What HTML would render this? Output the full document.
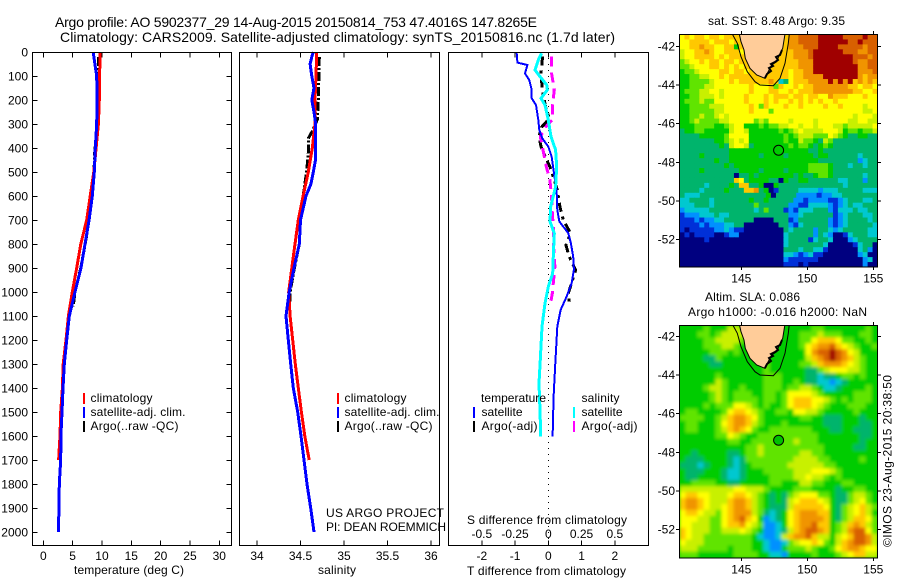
<!DOCTYPE html>
<html lang="en">
<head>
<meta charset="utf-8">
<title>Argo profile 5902377_29</title>
<style>
html,body{margin:0;padding:0;background:#fff;}
svg{display:block;font-family:"Liberation Sans",Arial,sans-serif;font-size:12px;fill:#000;}
.frame{fill:none;stroke:#000;stroke-width:1;shape-rendering:crispEdges;}
.tick{stroke:#000;stroke-width:1;shape-rendering:crispEdges;}
.ttl{font-size:14px;}
</style>
</head>
<body>
<svg id="chart" xmlns="http://www.w3.org/2000/svg" width="900" height="580" viewBox="0 0 900 580">
<rect width="900" height="580" fill="#fff"/>
<text class="ttl" x="55" y="27" textLength="482">Argo profile: AO 5902377_29 14-Aug-2015 20150814_753 47.4016S 147.8265E</text>
<text class="ttl" x="60" y="42" textLength="555">Climatology: CARS2009. Satellite-adjusted climatology: synTS_20150816.nc (1.7d later)</text>

<defs>
<clipPath id="clip-m1"><rect x="679" y="34" width="198.5" height="233"/></clipPath>
<clipPath id="clip-m2"><rect x="679" y="325" width="198.5" height="232.5"/></clipPath>
<filter id="soft" x="-5%" y="-5%" width="110%" height="110%"><feGaussianBlur stdDeviation="1.5"/></filter>
</defs>

<g id="temp-panel"></g>
<g id="sal-panel"></g>
<g id="diff-panel"></g>

<text x="74" y="574" textLength="110">temperature (deg C)</text>
<text x="318" y="574" textLength="38">salinity</text>
<text x="467" y="575" textLength="159">T difference from climatology</text>
<text x="467" y="524" textLength="160">S difference from climatology</text>

<g>
<rect x="83" y="393" width="2" height="11" fill="#f00"/>
<rect x="83" y="407" width="2" height="11" fill="#00f"/>
<rect x="83" y="421" width="2" height="11" fill="#000"/>
<text x="90.5" y="402" textLength="62">climatology</text>
<text x="90.5" y="416" textLength="95">satellite-adj. clim.</text>
<text x="90.5" y="430" textLength="88">Argo(..raw -QC)</text>
</g>
<g>
<rect x="337" y="393" width="2" height="11" fill="#f00"/>
<rect x="337" y="407" width="2" height="11" fill="#00f"/>
<rect x="337" y="421" width="2" height="11" fill="#000"/>
<text x="344.5" y="402" textLength="62">climatology</text>
<text x="344.5" y="416" textLength="95">satellite-adj. clim.</text>
<text x="344.5" y="430" textLength="88">Argo(..raw -QC)</text>
</g>
<text x="326" y="517" textLength="118">US ARGO PROJECT</text>
<text x="326" y="531" textLength="120">PI: DEAN ROEMMICH</text>
<g>
<text x="481" y="402" textLength="65">temperature</text>
<rect x="473" y="407" width="2" height="11" fill="#00f"/>
<rect x="473" y="421" width="2" height="11" fill="#000"/>
<text x="481.5" y="416" textLength="41">satellite</text>
<text x="481.5" y="430" textLength="56">Argo(-adj)</text>
<text x="581.5" y="402" textLength="38">salinity</text>
<rect x="573" y="407" width="2" height="11" fill="#0ff"/>
<rect x="573" y="421" width="2" height="11" fill="#f0f"/>
<text x="581.5" y="416" textLength="41">satellite</text>
<text x="581.5" y="430" textLength="56">Argo(-adj)</text>
</g>

<text x="708" y="25" textLength="137">sat. SST: 8.48 Argo: 9.35</text>
<g id="map-sst" clip-path="url(#clip-m1)"></g>
<g id="map-sst-over"></g>
<text x="705" y="301" textLength="95">Altim. SLA: 0.086</text>
<text x="688" y="316" textLength="179">Argo h1000: -0.016 h2000: NaN</text>
<g id="map-sla" clip-path="url(#clip-m2)"></g>
<g id="map-sla-over"></g>
<text transform="translate(891.5,547) rotate(-90)" textLength="172">©IMOS 23-Aug-2015 20:38:50</text>
</svg>

<script>
/* ---------- profile data ---------- */
const tempClimDepth=[0,200,300,400,500,600,700,800,900,1000,1100,1200,1300,1400,1500,1600,1700];
const tempClim=[9.66,9.55,9.4,9.0,8.6,8.0,7.4,6.4,5.7,4.95,4.27,3.87,3.4,3.25,2.96,2.85,2.6];
const tempSatDepth=[0,50,100,200,300,400,500,600,700,800,900,1000,1100,1200,1300,1400,1500,1600,1700,1800,1900,2000];
const tempSat=[8.5,8.8,9.1,9.15,9.1,8.87,8.7,8.35,7.8,7.1,6.43,5.4,4.43,3.98,3.58,3.36,3.19,3.0,2.96,2.73,2.68,2.56];
const tempArgoDepth=[20,200,300,400,500,600,700,750,900,1000,1060];
const tempArgo=[9.44,9.44,9.35,8.8,8.65,8.25,7.7,7.5,6.4,5.4,5.1];

const salClimDepth=[0,100,200,300,400,500,600,700,800,900,1000,1100,1200,1300,1400,1500,1600,1700];
const salClim=[34.686,34.678,34.667,34.667,34.636,34.59,34.53,34.475,34.437,34.40,34.364,34.38,34.41,34.44,34.475,34.51,34.55,34.6];
const salSatDepth=[0,20,50,100,150,200,250,300,400,450,500,550,600,700,800,900,1000,1100,1200,1300,1400,1500,1600,1700,1800,1900,2000];
const salSat=[34.647,34.63,34.61,34.63,34.655,34.63,34.655,34.675,34.675,34.672,34.647,34.62,34.563,34.5,34.486,34.425,34.37,34.333,34.36,34.387,34.417,34.468,34.506,34.54,34.575,34.617,34.655];
const salArgoDepth=[20,100,200,280,330,360,420,500,600,700,800,900,1000,1040];
const salArgo=[34.716,34.712,34.705,34.695,34.636,34.59,34.59,34.57,34.53,34.5,34.486,34.43,34.38,34.38];

const dTSatDepth=[5,44,54,89,117,158,193,221,283,325,360,394,436,506,575,658,706,755,797,853,908,964,1019,1075,1144,1297,1436,1603];
const dTSat=[-0.95,-0.93,-0.63,-0.70,-0.57,-0.50,-0.50,-0.37,-0.30,-0.27,-0.18,0.0,0.10,0.17,0.25,0.27,0.33,0.60,0.68,0.75,0.77,0.70,0.55,0.37,0.27,0.21,0.16,0.13];
const dSSatDepth=[5,33,75,103,137,158,193,221,283,353,408,478,561,644,706,756,839,922,978,1047,1144,1297,1380,1505,1603];
const dSSat=[-0.05,-0.075,-0.10,-0.062,-0.012,-0.007,-0.055,-0.025,0,0.02,0.055,0.063,0.055,0.018,0.013,0.045,0.038,0.033,0,-0.025,-0.047,-0.062,-0.07,-0.062,-0.057];
const dTArgoDepth=[19,89,158,229,277,313,353,394,450,478,575,644,700,756,804,853,908,964,1006,1061];
const dTArgo=[-0.17,-0.22,-0.18,-0.08,0.03,-0.2,-0.28,-0.22,-0.05,0.05,0.27,0.35,0.45,0.67,0.53,0.63,0.82,0.70,0.60,0.65];
const dSArgoDepth=[19,89,158,229,283,313,353,408,478,533,603,672,742,811,894,950,1006,1061];
const dSArgo=[0.025,0.025,0.045,0.03,0.03,-0.02,-0.06,-0.04,-0.015,0.012,0.025,0.03,0.04,0.04,0.05,0.04,0.03,0.012];

/* ---------- tick labels ---------- */
const depthTicks=[0,100,200,300,400,500,600,700,800,900,1000,1100,1200,1300,1400,1500,1600,1700,1800,1900,2000];
const tempTicks=[0,5,10,15,20,25,30];
const salTicks=[34,34.5,35,35.5,36];
const dTTicks=[-2,-1,0,1,2];
const dSTicks=[-0.5,-0.25,0,0.25,0.5];
const lonTicks=[145,150,155];
const latTicks=[-42,-44,-46,-48,-50,-52];
const argoLon=[147.8265];
const argoLat=[-47.4016];

/* ---------- map data: each char is a colour level a (cold) .. m (warm) ---------- */
const levelChars="abcdefghijklm";
const levelColors=["#000080","#0030d8","#0090ff","#00c8d0","#00b46c","#00cc00","#60e400","#c8f000","#ffff00","#ffc800","#f09400","#d86000","#a00000"];
const sstRows=[
"ijijjijjijjjjjjjjjjjjjkkllllmmmmmllllmll",
"iijjjjijjjijjjjjjjjjjjkkllllmmmmmmllmlll",
"iijjkjjiijjfjjjjjjjjjjkkklllmmmmlllllkll",
"hiijjkjiijjjijjjjjjjjjjkkklmmmmmmlllkkll",
"hiijjjjijijjjjjjjjjjjjjkkklmmmmmmmmlllkl",
"ghiijijjijjijjjjjjjjjjjjkkkmmmmmmmmlkkll",
"gghiiijjijijijjjjjjjjjjjkkkmmmmmmmmmkkll",
"fgghiiiijjijjijjjjjjjjijjkkmmmmmmmmmkkkl",
"ffgghhiijijjjjjjjjjjjjijjkkkkmmmmmmmkjkk",
"ffgggghiiijijjjjjjkjdeijjjkkkkmkmkmjkjkj",
"ffggghhiiiiiiijiiijgjiijijjkkkkkkkjjijji",
"fggghhiihiiiiijiiijjiijijjjkkkkkkkkjjiij",
"ffgghhhihiiiijiiijijjjijjijjiikjjjiiijii",
"fggghggiiiiiijiiijijiijijijijiijiiiiiiii",
"ffgggghhhiiiiijigjiiijiijiiiijiijiiiihii",
"ffggggghhiiiiijiiigiiiiiiiiiiiiiiiiiihhi",
"ffgghgghihiiiiiiiiiiiiiiiiiiiiiiiiihiiih",
"ffghgggghhiiiiighgiiiihiiiihiiiiiihhiihh",
"fffggggffghiifffgfgghhiihiihiiihhghhhhhi",
"effggfffffhiihffffffgfghihhhhiiihfggfggh",
"eeeefffffgiiiifffffffgfghhhgggihgfeeffee",
"eeeeeeeffghihifffffffgffhggfehgeeeeeeeee",
"eeeeeeeefehiihefffffffgfggfefgfeeeeeeeee",
"eeeeeeeeeeffffffffffffffffeefeeeeeeeeeee",
"eeeefeeeeeffffffeffffefffffeffeeeeeedeee",
"eeeeeeefeeffffffffffffffffffeeeeeeeecdee",
"eeeeeeeeefefffffffffffffffggggfeeedeedee",
"eeeefeeeeeeeffffeffffeffffggggfeeeeeeeee",
"eeeeeeeeeeeaeefefffffffefeefggfeeeeeedee",
"eeeeeeeeeeejieffffeeafeeffeeeeeeddeeecee",
"eeeeedeeeefejjeefaafeeeeeeeeeeeeedeeeeee",
"eeeedeeeefeeejjkefabeeeeddddcdddeeeeeddd",
"edddeeeeeeeeeeeeefaeeeeccccbccddeeeeeee",
"ddeeeedeeeeeeefeefeeeeeccbccccbbcdeeedde",
"dddeeedeeeeeeeegeeeeeeccbbddddcbcdeddeee",
"cdddddeeeeeeeeedegeeebcbdddeeecbdddeddee",
"bcccdddeddeeeeeeeeeeeeccdeeeeeebcdeeedde",
"bbbcbccddeeeeeeaaaaeeebceeeeeecbcdeeeede",
"bbbbcbcccddeeaaaaaaaeecbdeeeeecbcdeeeeed",
"babbbbbccdcbbaaaaaaaaedeeeeceedcdeeeeedd",
"ababbbbaabccaaaaaaaaadeeeeecedcaabdeeedd",
"aaaaabaaaaaaaaaaaaaaadeeeebdeedaaacdeeee",
"aaaaaaaaaaaaaaaaaaaaadeeeeeeedaaaaabdeea",
"aaaaaaaaaaaaaaaaaaaaaeeedeeddbaaaaaadeca",
"aaaaaaaaaaaaaaaaaaaaaddcbcdbbaaaaaaacdaa",
"aaaaaaaaaaaaaaaaaaaaacbbbbbbaaaaaaaaacda",
"aaaaaaaaaaaaaaaaaaaaabbbabaaaaaaaaaaacaa"
];
const slaRows=[
"ffffgfffhhgfffffffffffggfffffffgf",
"fffggfghhhhfffffffffggghgggfffggf",
"ffffgghhhhgfffffffffggijjjiggffgf",
"ffffggghhgffffffffffgijkkljihgffg",
"fffffgggfgfffffffffffikllmlkihfff",
"ffffeegffffffffffffffhjklmlkjhgff",
"fffffeefffffffgfffffgghjkkkjihgff",
"ffffffffffffffgffffffeeghiiihhgff",
"ffffffgfffffffgggffffeedeefggfgff",
"ffffffhgffffffgggffgfeeddcdefffff",
"ffffghhgffgfffgggfgghhgfddeffffgf",
"fffffghgfgggffggfgiiiihgfffffgggf",
"fffffghgfggggfggfgijjjiihgfgfgggf",
"ffffgfgggiihgfgffgijjjihgfffgggff",
"fggffffgijjihgffggfiihhgfffffgfff",
"ggggffghjkkjigffffffggffeeefffeff",
"fggfffgijkkjhgfffgffffffeeefffeef",
"fggfffghjkjigffgggggggfffeeffeeef",
"ffffffggihgffggggggggggfffffffeef",
"ffffffffggffggggggghgggfffffffeff",
"fffffffffffgghggggggggggfffffeeff",
"ffefffffeefgghgggggghhggfffffffff",
"feeeffffedegggggggghhhhggfffffgff",
"eeedefffedefgggggghhhhhhggfffffff",
"feeefffeddefffggggghhhiiihgffffff",
"feeffffeddeffffgggghhihhgfgffffff",
"ffggggffeefffffggfffhhggfffggffff",
"hhhhhhhhhiihhhgffffgggffffeffggff",
"ijjiihhhijjihgfefeghiiiggfeeghhgf",
"jkkjihhhjkkjhgfefehijjjihfeeghigf",
"jkkjihhijkkjhgfeeehjjjjjifeghijhg",
"ijjihhgijkkkhgedefijkkkjjfeghijhf",
"iiihhggijkljifcdefijkkkkjfeghjjig",
"iihhhggijjkihgccdfijkkljjfghjkjhg",
"jihhhgghhhihgfccdehjkllkjfghkllig",
"jihhggggggggfdccdhjkkljhhfhijllkh",
"ihhhggggggggffdccdghiijigfhjkllkh",
"hhhgggggfgggffdccfggghgffgijkkjii",
"gggffffffggggffddcffffgfffghijjhh"
];

/* ---------- axis functions ---------- */
const yD=d=>52+0.24*d;
const xT=v=>43.3+5.867*v;
const xS=v=>257+87*(v-34);
const xDT=v=>548.3+33.25*v;
const xDS=v=>548.3+133*v;
const lonX=lon=>741.3+13.2*(lon-145);
const latY=(lat,base)=>base+19.3*(-42-lat);

const NS="http://www.w3.org/2000/svg";
function mk(tag,attrs,parent,txt){
  const el=document.createElementNS(NS,tag);
  for(const k in attrs)el.setAttribute(k,attrs[k]);
  if(txt!==undefined)el.textContent=txt;
  parent.appendChild(el);
  return el;
}
function frame(parent,x,y,w,h){
  const el=mk('rect',{x:x,y:y,width:w,height:h,class:'frame'},parent);
  
  
}
function tick(parent,x1,y1,x2,y2){
  const el=mk('line',{x1:x1,y1:y1,x2:x2,y2:y2,class:'tick'},parent);
  
  
}
function label(parent,x,y,anchor,s){
  const el=mk('text',{x:x,y:y,'text-anchor':anchor},parent,s);
  
  
}
function series(parent,xs,depths,xf,color,w,dash,name){
  const pts=xs.map((v,i)=>xf(v).toFixed(1)+','+yD(depths[i]).toFixed(1)).join(' ');
  const el=mk('polyline',{points:pts,fill:'none',stroke:color,'stroke-width':w,'stroke-dasharray':dash||'none','shape-rendering':'crispEdges'},parent);
  
  
}

/* ---------- temperature panel ---------- */
const gT=document.getElementById('temp-panel');
series(gT,tempArgo,tempArgoDepth,xT,'#000',3,'9 2 2 2','temperature-argo-line');
series(gT,tempClim,tempClimDepth,xT,'#f00',3,'','temperature-climatology-line');
series(gT,tempSat,tempSatDepth,xT,'#00f',3,'','temperature-satellite-line');
frame(gT,32.5,52.5,199,493);
depthTicks.forEach(d=>{
  tick(gT,32.5,yD(d)+0.5,37.5,yD(d)+0.5);
  tick(gT,226.5,yD(d)+0.5,231.5,yD(d)+0.5);
  label(gT,28,yD(d)+4.5,'end',String(d));
});
tempTicks.forEach(v=>{
  tick(gT,xT(v),52.5,xT(v),57.5);
  tick(gT,xT(v),540.5,xT(v),545.5);
  label(gT,xT(v),560,'middle',String(v));
});

/* ---------- salinity panel ---------- */
const gS=document.getElementById('sal-panel');
series(gS,salArgo,salArgoDepth,xS,'#000',3,'9 2 2 2','salinity-argo-line');
series(gS,salClim,salClimDepth,xS,'#f00',3,'','salinity-climatology-line');
series(gS,salSat,salSatDepth,xS,'#00f',3,'','salinity-satellite-line');
frame(gS,239.5,52.5,200,493);
salTicks.forEach(v=>{
  tick(gS,xS(v),52.5,xS(v),57.5);
  tick(gS,xS(v),540.5,xS(v),545.5);
  label(gS,xS(v),560,'middle',String(v));
});

/* ---------- difference panel ---------- */
const gD=document.getElementById('diff-panel');
const zero=mk('line',{x1:548.5,y1:52,x2:548.5,y2:545,stroke:'#000','stroke-width':1,'stroke-dasharray':'1 5','shape-rendering':'crispEdges'},gD);


series(gD,dTArgo,dTArgoDepth,xDT,'#000',3,'9 5 3 5','t-difference-argo-line');
series(gD,dSArgo,dSArgoDepth,xDS,'#f0f',3,'10 6','s-difference-argo-line');
series(gD,dTSat,dTSatDepth,xDT,'#00f',2,'','t-difference-satellite-line');
series(gD,dSSat,dSSatDepth,xDS,'#0ff',3,'','s-difference-satellite-line');
frame(gD,448.5,52.5,200,493);
dTTicks.forEach(v=>{
  tick(gD,xDT(v),52.5,xDT(v),57.5);
  tick(gD,xDT(v),540.5,xDT(v),545.5);
  label(gD,xDT(v),560,'middle',String(v));
});
dSTicks.forEach(v=>{
  label(gD,xDS(v),538,'middle',String(v));
});

/* ---------- maps ---------- */
const LAND="739.3,34 741,41.7 744,50 745.3,58.3 750,68.3 756.7,75 765,78.3 767.3,73.3 771.7,65 776.7,61.7 779.3,55 782.7,48.3 784.3,38.3 785,34";
const CONTOUR="732.3,34 737.3,43.3 741,56.7 747.3,71.7 755,81.7 760,85 773.3,85.7 780,78.3 785,63.3 788.3,43.3 789.3,34";
const SE_COAST="765,78 767,74 771,71 769,68 773,66 771,64 775,62 778,60 776,57 780,55 782,50";

function drawCells(parent,rows,x0,y0,w,h,nameStr){
  const rowH=h/rows.length;
  rows.forEach((row,r)=>{
    const colW=w/row.length;
    for(let c=0;c<row.length;c++){
      const level=levelChars.indexOf(row[c]);
      const el=mk('rect',{x:(x0+c*colW).toFixed(2),y:(y0+r*rowH).toFixed(2),width:(colW+0.6).toFixed(2),height:(rowH+0.6).toFixed(2),fill:levelColors[level]},parent);
      
      
    }
  });
}
function drawOverlay(clipG,overG,dy,x0,y0,w,h,latBase,markerFill){
  const host=mk('g',{transform:'translate(0,'+dy+')'},clipG);
  const land=mk('polygon',{points:LAND,fill:'#ffcc99',stroke:'#000','stroke-width':1},host);
  
  
  const coast=mk('polyline',{points:SE_COAST,fill:'none',stroke:'#000','stroke-width':2},host);
  
  
  const cont=mk('polyline',{points:CONTOUR,fill:'none',stroke:'#000','stroke-width':1},host);
  
  
  const marker=mk('circle',{cx:lonX(argoLon[0]),cy:latY(argoLat[0],latBase),r:5,fill:markerFill,stroke:'#000','stroke-width':1},overG);
  
  
  frame(overG,x0+0.5,y0+0.5,w,h);
  lonTicks.forEach(v=>{
    tick(overG,lonX(v),y0-3,lonX(v),y0+0.5);
    tick(overG,lonX(v),y0+h,lonX(v),y0+h+3.5);
    label(overG,lonX(v),y0+h+16,'middle',String(v));
  });
  latTicks.forEach(v=>{
    const y=latY(v,latBase)+0.5;
    tick(overG,x0-3,y,x0+0.5,y);
    tick(overG,x0+w,y,x0+w+4,y);
    label(overG,x0-4,y+4,'end',String(v));
  });
}
const m1=document.getElementById('map-sst');
drawCells(m1,sstRows,679.5,34.5,198,232.5,'sst-cell');
drawOverlay(m1,document.getElementById('map-sst-over'),0,679,34,198,232.5,46,'none');

const m2=document.getElementById('map-sla');
const bg=mk('rect',{x:679,y:325,width:199,height:233,fill:'#00cc00'},m2);


const soft=mk('g',{filter:'url(#soft)'},m2);


drawCells(soft,slaRows,679.5,325.5,198,232,'sla-cell');
drawOverlay(m2,document.getElementById('map-sla-over'),290,679,325,198,232.5,336,'#00c000');
</script>
</body>
</html>
